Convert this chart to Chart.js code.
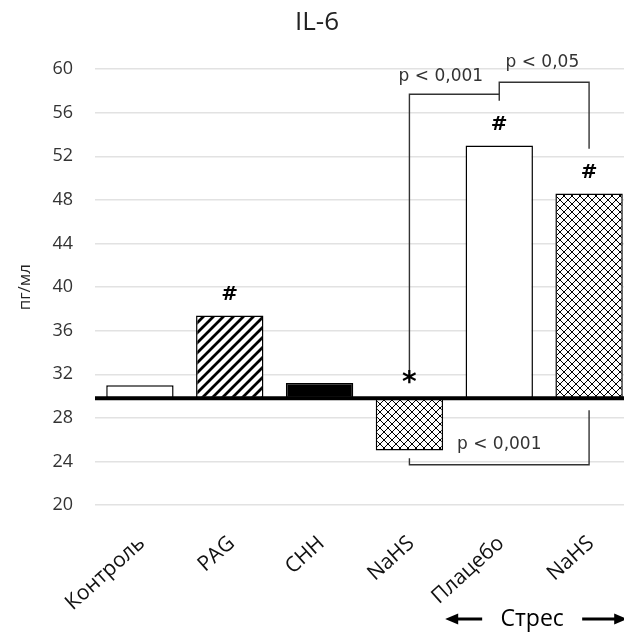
<!DOCTYPE html>
<html>
<head>
<meta charset="utf-8">
<script src="https://cdn.jsdelivr.net/npm/chart.js@4.4.1/dist/chart.umd.min.js"></script>
<style>
  html, body { margin: 0; padding: 0; background: #fff; overflow: hidden; }
  #wrap { width: 624px; height: 635px; overflow: hidden; }
</style>
</head>
<body>
<div id="wrap"><canvas id="c" width="634" height="635"></canvas></div>
<script>
// Daten aus der Abbildung (IL-6, пг/мл)
const categories = ['Контроль', 'PAG', 'CHH', 'NaHS', 'Плацебо', 'NaHS'];
const values = [31.0, 37.4, 31.2, 25.0, 53.0, 48.6];
const baseline = 29.8;
const yTicks = [20, 24, 28, 32, 36, 40, 44, 48, 52, 56, 60];
const marks = ['', '#', '', '*', '#', '#'];

// Signifikanz-Klammern (Werte in Achseneinheiten)
const brackets = [
    { from: 3, to: 4, y: 57.7, yFrom: 32.4, yTo: 57.1, label: 'p < 0,001', labelY: 59.3, labelAt: 3.35 },
    { from: 4, to: 5, y: 58.8, yFrom: 57.7, yTo: 52.7, label: 'p < 0,05', labelY: 60.6, labelAt: 4.48 },
    { from: 3, to: 5, y: 23.7, yFrom: 24.3, yTo: 28.7, label: 'p < 0,001', labelY: 25.5, labelAt: 4.0 }
];

function makePattern(type) {
    const s = type === 'diag' ? 10 : 8;
    const c = document.createElement('canvas');
    c.width = s; c.height = s;
    const g = c.getContext('2d');
    g.fillStyle = '#fff';
    g.fillRect(0, 0, s, s);
    g.strokeStyle = '#000';
    g.lineCap = 'square';
    if (type === 'diag') {
        g.lineWidth = 2.8;
        g.beginPath();
        g.moveTo(0, s); g.lineTo(s, 0);
        g.moveTo(-s / 2, s / 2); g.lineTo(s / 2, -s / 2);
        g.moveTo(s / 2, s * 1.5); g.lineTo(s * 1.5, s / 2);
        g.stroke();
    } else {
        g.lineWidth = 1;
        g.beginPath();
        g.moveTo(0, 0); g.lineTo(s, s);
        g.moveTo(0, s); g.lineTo(s, 0);
        g.stroke();
    }
    return g.createPattern(c, 'repeat');
}

const diag = makePattern('diag');
const cross = makePattern('cross');
const fills = ['#ffffff', diag, '#000000', cross, '#ffffff', cross];

const annotations = {
    id: 'annotations',
    afterDatasetsDraw(chart) {
        const { ctx, scales: { x, y }, chartArea } = chart;
        ctx.save();

        // dicke Grundlinie
        ctx.strokeStyle = '#000';
        ctx.lineWidth = 4;
        ctx.beginPath();
        ctx.moveTo(chartArea.left, y.getPixelForValue(baseline));
        ctx.lineTo(chartArea.right, y.getPixelForValue(baseline));
        ctx.stroke();

        // # und *
        ctx.fillStyle = '#000';
        ctx.textAlign = 'center';
        ctx.textBaseline = 'middle';
        marks.forEach((m, i) => {
            if (!m) return;
            const top = Math.max(values[i], baseline);
            const px = x.getPixelForValue(i);
            const py = y.getPixelForValue(top) - 21;
            ctx.font = m === '*' ? 'bold 28px "DejaVu Sans"' : 'bold 20px "DejaVu Sans"';
            ctx.fillText(m, px, m === '*' ? py + 6 : py);
        });

        // Klammern
        ctx.strokeStyle = '#333';
        ctx.lineWidth = 1.4;
        ctx.font = '17px "DejaVu Sans"';
        ctx.fillStyle = '#333';
        brackets.forEach(b => {
            const x1 = x.getPixelForValue(b.from);
            const x2 = x.getPixelForValue(b.to);
            const yy = y.getPixelForValue(b.y);
            ctx.beginPath();
            ctx.moveTo(x1, y.getPixelForValue(b.yFrom));
            ctx.lineTo(x1, yy);
            ctx.lineTo(x2, yy);
            ctx.lineTo(x2, y.getPixelForValue(b.yTo));
            ctx.stroke();
            ctx.fillText(b.label, x.getPixelForValue(b.labelAt), y.getPixelForValue(b.labelY));
        });

        // Стрес mit Pfeilen
        const cx = (x.getPixelForValue(4) + x.getPixelForValue(5)) / 2 - 12;
        const ty = 619;
        ctx.font = '23px "Open Sans"';
        ctx.fillStyle = '#000';
        ctx.fillText('Стрес', cx, ty);
        ctx.strokeStyle = '#000';
        ctx.lineWidth = 3;
        const arrow = (xa, xb) => {
            const dir = Math.sign(xb - xa);
            ctx.beginPath();
            ctx.moveTo(xa, ty);
            ctx.lineTo(xb - dir * 8, ty);
            ctx.stroke();
            ctx.beginPath();
            ctx.moveTo(xb, ty);
            ctx.lineTo(xb - dir * 13, ty - 5.5);
            ctx.lineTo(xb - dir * 13, ty + 5.5);
            ctx.closePath();
            ctx.fill();
        };
        arrow(cx - 50, cx - 87);
        arrow(cx + 50, cx + 95);

        ctx.restore();
    }
};

new Chart(document.getElementById('c'), {
    type: 'bar',
    data: {
        labels: categories,
        datasets: [{
            data: values.map(v => [baseline, v]),
            backgroundColor: fills,
            borderColor: '#000',
            borderWidth: 1.5,
            borderSkipped: false,
            barPercentage: 0.75,
            categoryPercentage: 1
        }]
    },
    options: {
        responsive: false,
        animation: false,
        layout: { padding: { left: 0, right: 0, top: 0, bottom: 0 } },
        plugins: {
            legend: { display: false },
            tooltip: { enabled: false },
            title: {
                display: true,
                text: 'IL-6',
                color: '#222',
                font: { family: 'Open Sans', size: 26, weight: 'normal' },
                padding: { top: 7, bottom: 31 }
            }
        },
        scales: {
            x: {
                grid: { display: false },
                border: { display: false },
                ticks: {
                    color: '#111',
                    font: { family: 'Open Sans', size: 21 },
                    maxRotation: 42,
                    minRotation: 42,
                    padding: 18,
                    labelOffset: 2
                },
                afterFit: s => { s.height = 130; }
            },
            y: {
                min: 20,
                max: 60,
                afterBuildTicks: s => { s.ticks = yTicks.map(v => ({ value: v })); },
                grid: { color: '#e2e2e2', lineWidth: 1.5, drawTicks: false },
                border: { display: false },
                ticks: {
                    color: '#333',
                    font: { family: 'Open Sans', size: 18 },
                    padding: 22
                },
                title: {
                    display: true,
                    text: 'пг/мл',
                    color: '#222',
                    font: { family: 'Open Sans', size: 17 },
                    padding: { top: 15, bottom: 0 }
                },
                afterFit: s => { s.width = 95; }
            }
        }
    },
    plugins: [annotations]
});
</script>
</body>
</html>
